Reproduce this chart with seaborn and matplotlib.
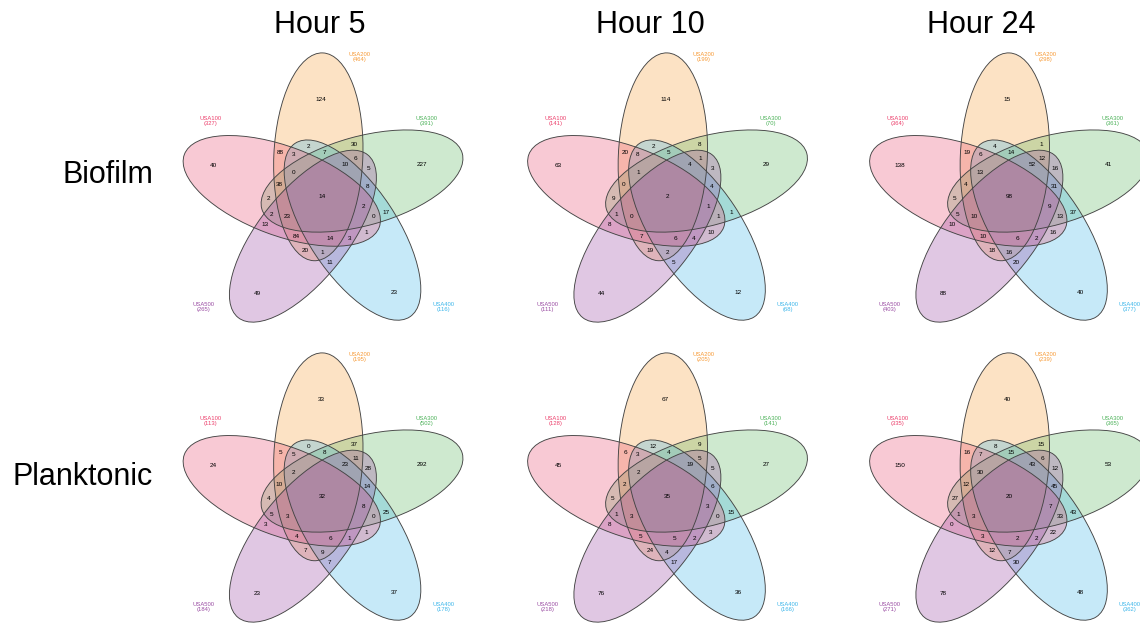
import numpy as np
import matplotlib
matplotlib.use("Agg")
import matplotlib.pyplot as plt
from matplotlib.patches import Ellipse
import seaborn as sns

# ---- data -------------------------------------------------------------
sets = ["USA100", "USA200", "USA300", "USA400", "USA500"]
hours = ["Hour 5", "Hour 10", "Hour 24"]
conditions = ["Biofilm", "Planktonic"]

# Region membership, letters A..E = USA100..USA500
regions = ["B", "A", "C", "E", "D", "BD", "BC", "AB", "ABD", "BCD", "BCE", "BCDE", "CE",
           "ABCD", "ABC", "CDE", "ABCDE", "AC", "CD", "ACDE", "ACD", "ACE", "ABCE", "AE",
           "ABE", "ABDE", "ADE", "AD", "BE", "BDE", "DE"]

biofilm_h5 = [124, 40, 227, 49, 23, 2, 30, 88, 3, 7, 6, 10, 5, 0, 38, 8, 14, 2, 17, 2, 0,
              2, 23, 13, 84, 14, 3, 1, 20, 1, 11]
biofilm_h10 = [114, 63, 29, 44, 12, 2, 8, 20, 8, 5, 1, 4, 3, 1, 0, 4, 2, 9, 1, 1, 1,
               1, 0, 8, 7, 6, 4, 10, 19, 2, 5]
biofilm_h24 = [15, 138, 41, 88, 40, 4, 1, 19, 6, 14, 12, 52, 16, 13, 4, 31, 98, 5, 37, 9, 13,
               5, 10, 10, 10, 6, 2, 16, 18, 16, 20]
planktonic_h5 = [33, 24, 292, 23, 37, 0, 37, 5, 5, 8, 11, 23, 28, 2, 10, 14, 32, 4, 25, 8, 0,
                 5, 3, 3, 4, 6, 1, 1, 7, 9, 7]
planktonic_h10 = [67, 45, 27, 76, 36, 12, 9, 6, 3, 4, 5, 19, 5, 2, 2, 6, 35, 5, 15, 3, 0,
                  1, 3, 8, 5, 5, 2, 3, 24, 4, 17]
planktonic_h24 = [40, 150, 53, 78, 48, 8, 15, 16, 7, 15, 6, 43, 12, 30, 12, 45, 20, 27, 43, 7, 33,
                  1, 3, 0, 3, 2, 2, 22, 12, 7, 30]

panels = [[biofilm_h5, biofilm_h10, biofilm_h24],
          [planktonic_h5, planktonic_h10, planktonic_h24]]

# ---- style --------------------------------------------------------------
sns.set_theme(style="white")
plt.rcParams["font.family"] = ["Liberation Sans", "DejaVu Sans"]
fills = sns.color_palette(["#EA4E73", "#F7A03C", "#5DB960", "#45B8EA", "#9A48A3"])
label_cols = sns.color_palette(["#EC3F6B", "#F79A36", "#4DB25A", "#3DB6EA", "#9A4DA3"])
FILL_ALPHA = 0.30
fill_order = [1, 2, 3, 0, 4]

# ---- ellipse layout (pixel units around each diagram centre, y up) ---------
OFFSET, SEMI_MAJOR, SEMI_MINOR = 42.5, 104.0, 44.5
PHI_REF, PSI_REF = 97.0, 87.5          # USA200 ellipse, the others are rotated by 72 deg
rot_step = {0: 1, 1: 0, 2: -1, 3: -2, 4: -3}
single_pos = [0.70, 0.55, 0.60, 0.72, 0.71]   # where single-set labels sit on the long axis


def ellipse_params(i):
    phi = np.radians(PHI_REF + 72 * rot_step[i])
    psi = PSI_REF + 72 * rot_step[i]
    centre = np.array([OFFSET * np.cos(phi), OFFSET * np.sin(phi)])
    return centre, psi


def inside(i, gx, gy):
    c, psi = ellipse_params(i)
    s = np.radians(psi)
    vx, vy = gx - c[0], gy - c[1]
    u = vx * np.cos(s) + vy * np.sin(s)
    w = -vx * np.sin(s) + vy * np.cos(s)
    return (u / SEMI_MAJOR) ** 2 + (w / SEMI_MINOR) ** 2 < 1


# label anchor of each overlap region: deepest interior point of the region
step = 1.0
xs = np.arange(-165, 165 + step, step)
gx, gy = np.meshgrid(xs, xs)
code = np.zeros(gx.shape, int)
for i in range(5):
    code += inside(i, gx, gy).astype(int) << i


def deepest_point(mask):
    m = mask.copy()
    while True:
        e = m.copy()
        e[1:, :] &= m[:-1, :]
        e[:-1, :] &= m[1:, :]
        e[:, 1:] &= m[:, :-1]
        e[:, :-1] &= m[:, 1:]
        if not e.any():
            break
        m = e
    iy, ix = np.nonzero(m)
    px, py = xs[ix], xs[iy]
    k = np.argmin((px - px.mean()) ** 2 + (py - py.mean()) ** 2)
    return px[k], py[k]


anchors = []
for r in regions:
    if len(r) == 1:
        i = "ABCDE".index(r)
        c, psi = ellipse_params(i)
        s = np.radians(psi)
        anchors.append((c[0] + single_pos[i] * SEMI_MAJOR * np.cos(s),
                        c[1] + single_pos[i] * SEMI_MAJOR * np.sin(s)))
    else:
        bits = sum(1 << "ABCDE".index(ch) for ch in r)
        anchors.append(deepest_point(code == bits))

# category label offsets (pixel units, y up)
cat_offsets = [(-112.8, 78), (35.8, 142.3), (102.8, 78), (119.8, -107.7), (-120.2, -107.7)]

# ---- figure -----------------------------------------------------------------
W, H = 1140, 624
fig = plt.figure(figsize=(W / 100, H / 100), dpi=100)
ax = fig.add_axes([0, 0, 1, 1])
ax.set_xlim(0, W)
ax.set_ylim(0, H)
ax.set_aspect("equal")
ax.axis("off")

centres_x = [323.5, 668, 1010]
centres_y = [H - 199, H - 499]

for r_i, row in enumerate(panels):
    for c_i, vals in enumerate(row):
        cx, cy = centres_x[c_i], centres_y[r_i]
        for i in fill_order:
            c, psi = ellipse_params(i)
            ax.add_patch(Ellipse((cx + c[0], cy + c[1]), 2 * SEMI_MAJOR, 2 * SEMI_MINOR, angle=psi,
                                 facecolor=fills[i], alpha=FILL_ALPHA, edgecolor="none", zorder=1))
        for i in range(5):
            c, psi = ellipse_params(i)
            ax.add_patch(Ellipse((cx + c[0], cy + c[1]), 2 * SEMI_MAJOR, 2 * SEMI_MINOR, angle=psi,
                                 facecolor="none", edgecolor="#444444", linewidth=0.65, zorder=2))
        for v, (ax_, ay_) in zip(vals, anchors):
            ax.text(cx + ax_, cy + ay_, str(v), fontsize=4.6, ha="center", va="center",
                    color="black", zorder=3)
        for i, name in enumerate(sets):
            total = sum(v for v, r in zip(vals, regions) if "ABCDE"[i] in r)
            dx, dy = cat_offsets[i]
            ax.text(cx + dx, cy + dy, f"{name}\n({total})", fontsize=4.2, ha="center",
                    va="center", color=label_cols[i], linespacing=1.1, zorder=3)

for x, t in zip([320, 650.5, 981], hours):
    ax.text(x, H - 33, t, fontsize=22, ha="center", va="baseline", color="black")
for y, t in zip([H - 183, H - 485], conditions):
    ax.text(153, y, t, fontsize=22, ha="right", va="baseline", color="black")

fig.savefig("out.png", dpi=100)
